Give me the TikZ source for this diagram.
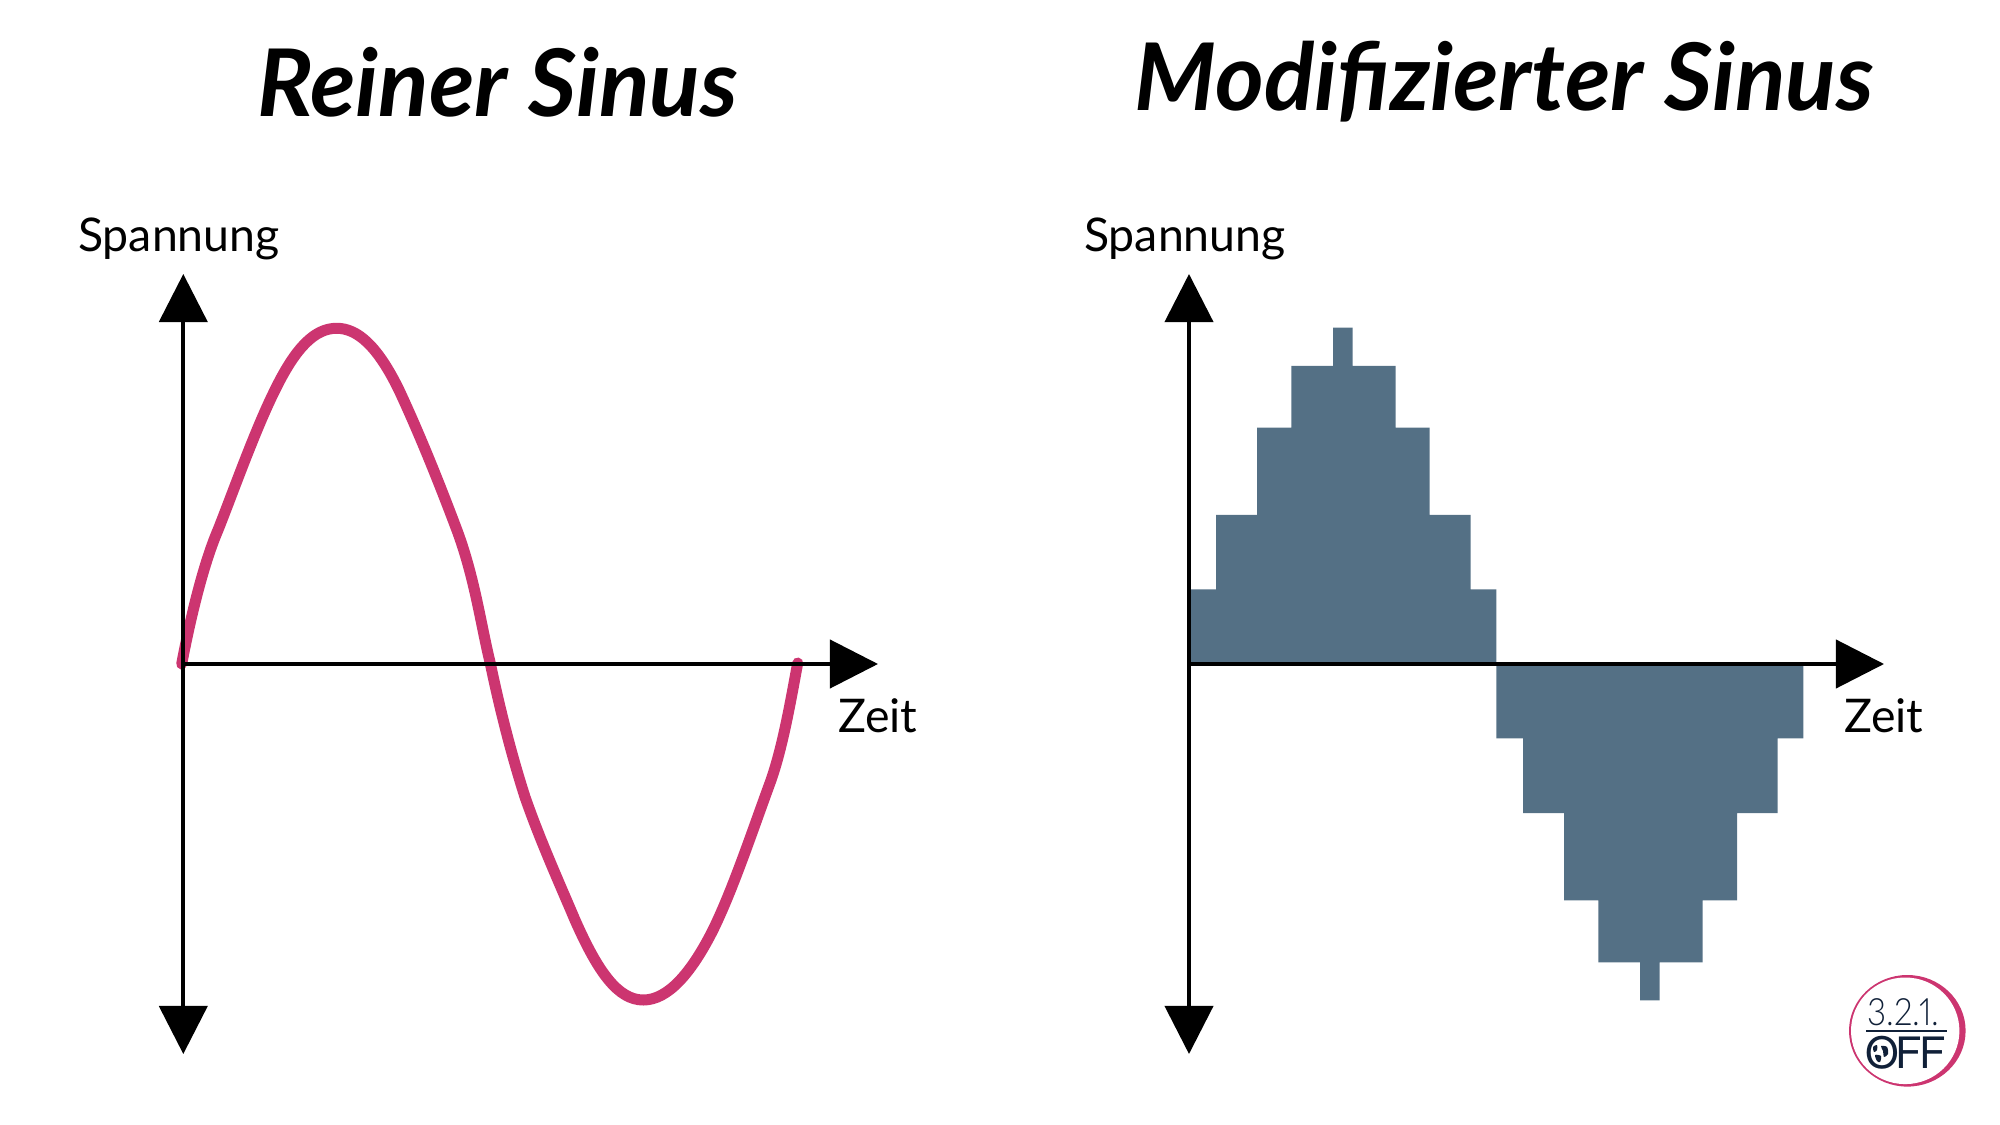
\documentclass[tikz,border=0pt]{standalone}
\usepackage{fontspec}
\setmainfont{Lato}
\newfontfamily\logofont{TeX Gyre Heros}
\newfontfamily\logolight[Numbers=Proportional]{Lato Light}
\usepackage{tikz}
\usetikzlibrary{arrows.meta}
\definecolor{sinuspink}{RGB}{204,53,112}
\definecolor{stepblue}{RGB}{84,112,133}
\definecolor{logonavy}{RGB}{16,32,56}
\tikzset{
	title/.style={anchor=base west,inner sep=0pt,font=\fontsize{26.55}{30}\selectfont\bfseries\itshape},
	axlabel/.style={anchor=base west,inner sep=0pt,font=\fontsize{13.2}{15}\selectfont},
	axis/.style={line width=.04cm,{Triangle[length=.48cm,width=.48cm]}-{Triangle[length=.48cm,width=.48cm]}},
	axisend/.style={line width=.04cm,-{Triangle[length=.48cm,width=.48cm]}},
}
\begin{document}
\begin{tikzpicture}[x=.01cm,y=-.01cm]
	\useasboundingbox (0,0) rectangle (2000,1125);
	% titles
	\node[title] (t1) at (256.5,116.7) {Reiner Sinus};
	\node[title] (t2) at (1134,110.7) {Modifizierter Sinus};
	% left curve
	\draw[sinuspink,line width=.11cm,line cap=round] (181.7,664)
		.. controls (190,620) and (203,565) .. (218,530)
		.. controls (232,495) and (255,430) .. (275,390)
		.. controls (296,347) and (315,328.3) .. (336.7,328.3)
		.. controls (358,328.3) and (378,347) .. (399,390)
		.. controls (420,435) and (440,485) .. (458,533)
		.. controls (475,580) and (481,625) .. (490,662)
		.. controls (499,705) and (510,750) .. (525,797)
		.. controls (540,840) and (558,880) .. (575,920)
		.. controls (598,972) and (618,1000) .. (643.3,1000)
		.. controls (668,1000) and (691,973) .. (712,932)
		.. controls (732,892) and (752,832) .. (770,783)
		.. controls (782,750) and (790,705) .. (797.7,663);
	% right steps
	\fill[stepblue] (1189,664) |- (1216,589.3) |- (1257,515) |- (1291.3,427.7) |- (1333,366)
		|- (1352.7,327.7) |- (1395.7,366) |- (1429.7,427.7) |- (1470.7,515) |- (1496.3,589.3)
		-- (1496.3,664) -- cycle;
	\fill[stepblue] (1496.3,664) |- (1523,738.3) |- (1564,813) |- (1598.3,900.3) |- (1640,962.3)
		|- (1659.7,1000.3) |- (1702.7,962.3) |- (1737,900.3) |- (1777.7,813) |- (1803.3,738.3)
		-- (1803.3,664) -- cycle;
	% axes
	\coordinate (o1) at (183.3,664);
	\coordinate (a1) at (183.3,274);
	\coordinate (b1) at (183.3,1054);
	\coordinate (e1) at (878,664);
	\coordinate (o2) at (1189,664);
	\coordinate (a2) at (1189,274);
	\coordinate (b2) at (1189,1054);
	\coordinate (e2) at (1884,664);
	\draw[axis] (a1) -- (b1);
	\draw[axisend] (o1) -- (e1);
	\draw[axis] (a2) -- (b2);
	\draw[axisend] (o2) -- (e2);
	\node[axlabel] (s1) at (77.5,251.5) {Spannung};
	\node[axlabel] (s2) at (1083.5,251.5) {Spannung};
	\node[axlabel] (z1) at (837.5,732.5) {Zeit};
	\node[axlabel] (z2) at (1843.5,732.5) {Zeit};
	% logo
	\fill[sinuspink] (1907.3,1030.8) ellipse (58.3 and 55.8);
	\fill[white] (1905.2,1030.8) ellipse (54.2 and 53.3);
	\node[anchor=base west,inner sep=0pt,text=logonavy,font=\logolight\fontsize{10.7}{12}\selectfont] (l1) at (1867,1025.7) {\scalebox{.88}[1]{3.2.1.}};
	\coordinate (r1) at (1866,1031);
	\coordinate (r2) at (1946.7,1031);
	\draw[logonavy,line width=.012cm] (r1) -- (r2);
	\node[anchor=base west,inner sep=0pt,text=logonavy,font=\logofont\fontsize{12.3}{14}\selectfont] (l2) at (1864.5,1068.3) {O};
	\node[anchor=base east,inner sep=0pt,text=logonavy,font=\logofont\fontsize{12.3}{14}\selectfont] (l3) at (1947,1068.3) {F\kern-.5pt F};
	% globe in the O
	\fill[logonavy] plot[smooth cycle] coordinates {(1873,1047) (1877,1045) (1877,1050) (1874,1052)};
	\fill[logonavy] plot[smooth cycle] coordinates {(1881,1046) (1887,1047) (1888,1054) (1884,1057) (1883,1051)};
	\fill[logonavy] plot[smooth cycle] coordinates {(1875,1055) (1881,1056) (1880,1062) (1877,1061)};
\end{tikzpicture}
\end{document}
